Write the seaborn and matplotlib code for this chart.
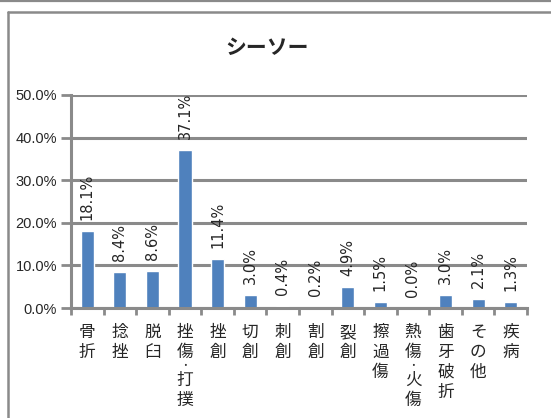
import matplotlib
matplotlib.use("Agg")
import matplotlib.pyplot as plt
from matplotlib.lines import Line2D
from matplotlib.ticker import FuncFormatter, FixedLocator
import seaborn as sns
import numpy as np

categories = ["骨折", "捻挫", "脱臼", "挫傷・打撲", "挫創", "切創", "刺創",
              "割創", "裂創", "擦過傷", "熱傷・火傷", "歯牙破折", "その他", "疾病"]
values = [18.1, 8.4, 8.6, 37.1, 11.4, 3.0, 0.4, 0.2, 4.9, 1.5, 0.0, 3.0, 2.1, 1.3]
value_labels = ["18.1%", "8.4%", "8.6%", "37.1%", "11.4%", "3.0%", "0.4%",
                "0.2%", "4.9%", "1.5%", "0.0%", "3.0%", "2.1%", "1.3%"]
yticks = [0, 10, 20, 30, 40, 50]
title = "シーソー"

sns.set_style("white")
plt.rcParams['font.family'] = ['DejaVu Sans', 'Noto Sans CJK JP']

W, H = 551, 418
fig = plt.figure(figsize=(W / 100, H / 100), dpi=100)
ax = fig.add_axes([71 / W, 1 - 308 / H, (527 - 71) / W, (308 - 95) / H])

gray = "#8a8a8a"
blue = "#4F81BD"

sns.barplot(x=categories, y=values, color=blue, width=0.4, saturation=1, ax=ax)

ax.set_xlim(-0.5, len(categories) - 0.5)
ax.set_ylim(0, 50)
ax.set_xlabel("")
ax.set_ylabel("")

# y axis
ax.yaxis.set_major_locator(FixedLocator(yticks))
ax.yaxis.set_major_formatter(FuncFormatter(lambda v, p: f"{v:.1f}%"))
ax.tick_params(axis="y", length=7, width=2, color=gray, pad=3,
               labelsize=10.5, left=True)
for lab in ax.get_yticklabels():
    lab.set_family("Liberation Sans")
ax.yaxis.grid(True, color=gray, linewidth=2.2)
ax.set_axisbelow(True)

# x axis: ticks at category boundaries, labels drawn separately
ax.set_xticks(np.arange(len(categories)))
ax.set_xticklabels([])
ax.tick_params(axis="x", which="major", length=0)
ax.set_xticks(np.arange(-0.5, len(categories)), minor=True)
ax.tick_params(axis="x", which="minor", length=5, width=2, color=gray, bottom=True)

for s in ["top", "right"]:
    ax.spines[s].set_visible(False)
for s in ["left", "bottom"]:
    ax.spines[s].set_color(gray)
    ax.spines[s].set_linewidth(2.2)

px = 0.72  # points per pixel at 100 dpi

# value labels above bars
for i, (v, lab) in enumerate(zip(values, value_labels)):
    ax.annotate(lab, xy=(i, v), xytext=(0, 11 * px), textcoords="offset points",
                rotation=90, ha="center", va="bottom", fontsize=10.5,
                family="DejaVu Sans", annotation_clip=False)

# vertical category labels, one character per row
for i, cat in enumerate(categories):
    top = 16
    for ch in cat:
        if ch == "・":
            ax.annotate(ch, xy=(i, 0), xycoords=("data", "axes fraction"),
                        xytext=(0, -(top + 2) * px), textcoords="offset points",
                        ha="center", va="center", fontsize=5.5, weight="bold",
                        family="Noto Sans CJK JP", annotation_clip=False)
            top += 8
        else:
            ax.annotate(ch, xy=(i, 0), xycoords=("data", "axes fraction"),
                        xytext=(0, -top * px), textcoords="offset points",
                        ha="center", va="top", fontsize=12,
                        family="Noto Sans CJK JP", annotation_clip=False)
            top += 20

fig.text(267 / W, 1 - 47 / H, title, ha="center", va="center", fontsize=15,
         weight="bold", family="Noto Sans CJK JP")

# outer frame lines
fig.add_artist(Line2D([0, 1], [1 - 1 / H] * 2, transform=fig.transFigure,
                      color=gray, linewidth=1.6))
fig.add_artist(Line2D([7.5 / W, 1], [1 - 12 / H] * 2, transform=fig.transFigure,
                      color=gray, linewidth=1.8))
fig.add_artist(Line2D([7.5 / W] * 2, [0, 1 - 12 / H], transform=fig.transFigure,
                      color=gray, linewidth=1.8))

fig.savefig("out.png", dpi=100)
